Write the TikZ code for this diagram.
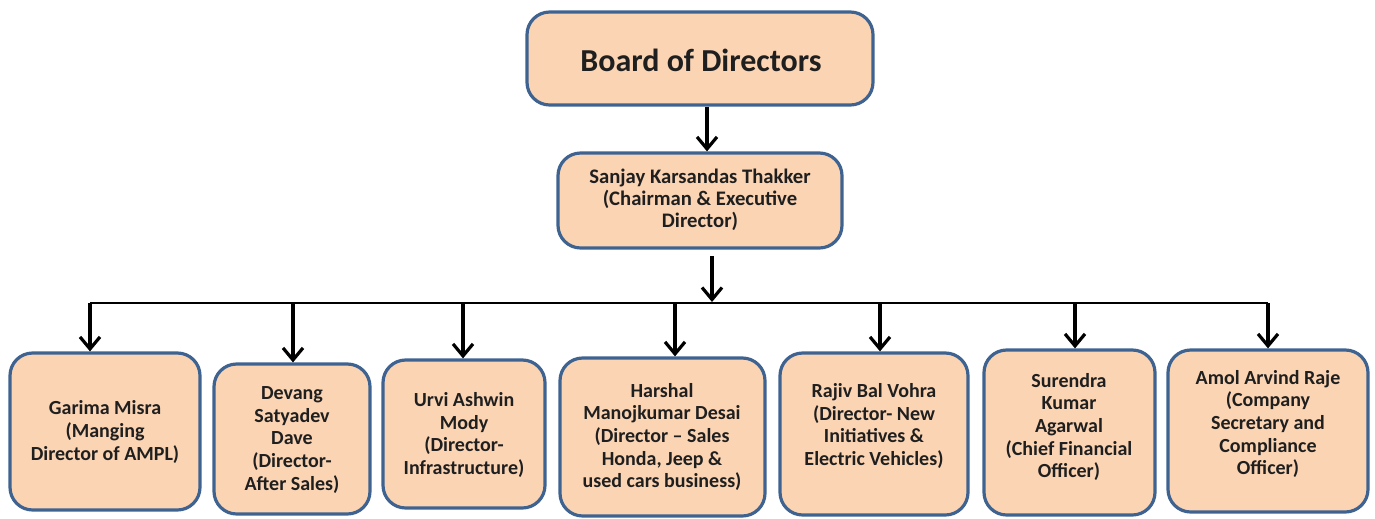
\documentclass[tikz,border=0pt]{standalone}
\usepackage{fontspec}
\setmainfont{Carlito}
\usetikzlibrary{arrows.meta,fit}
\definecolor{peach}{HTML}{FBD4B4}
\definecolor{edgeblue}{HTML}{3F6391}
\tikzset{
  box/.style={draw=edgeblue, fill=peach, line width=2.4pt, rounded corners=17pt, inner sep=0pt},
  txt/.style={align=center, inner sep=0pt, font=\fontsize{15}{16.9}\selectfont\bfseries, text=black!88},
  arr/.style={-{Straight Barb[length=9pt,width=15pt,line width=2.4pt]}, line width=2.4pt},
  bus/.style={line width=1.8pt}
}
\begin{document}
\begin{tikzpicture}[x=0.75pt,y=-0.75pt]
\useasboundingbox (0,0) rectangle (1375,518);
% boxes
\node[box, fit={(527,12) (873,105)}] (board) {};
\node[box, fit={(558,153) (842,248)}] (sanjay) {};
\node[box, fit={(10,353) (200,510)}] (garima) {};
\node[box, fit={(214,364) (370,514)}] (devang) {};
\node[box, fit={(383,360) (545,508)}] (urvi) {};
\node[box, fit={(560,358) (765,516)}] (harshal) {};
\node[box, fit={(780,353) (968,515)}] (rajiv) {};
\node[box, fit={(984,350) (1155,515)}] (surendra) {};
\node[box, fit={(1168,350) (1368,512)}] (amol) {};
% texts
\node[txt, font=\fontsize{24}{28}\selectfont\bfseries] (tboard) at (701,60) {Board of Directors};
\node[txt, font=\fontsize{15.5}{16.5}\selectfont\bfseries] (tsanjay) at (700,200) {Sanjay Karsandas Thakker\\(Chairman \& Executive\\Director)};
\node[txt] (tgarima) at (105,432) {Garima Misra\\(Manging\\Director of AMPL)};
\node[txt] (tdevang) at (292,440) {Devang\\Satyadev\\Dave\\(Director-\\After Sales)};
\node[txt] (turvi) at (464,435) {Urvi Ashwin\\Mody\\(Director-\\Infrastructure)};
\node[txt] (tharshal) at (662,437) {Harshal\\Manojkumar Desai\\(Director -- Sales\\Honda, Jeep \&\\used cars business)};
\node[txt] (trajiv) at (874,426) {Rajiv Bal Vohra\\(Director- New\\Initiatives \&\\Electric Vehicles)};
\node[txt] (tsurendra) at (1069,427) {Surendra\\Kumar\\Agarwal\\(Chief Financial\\Officer)};
\node[txt] (tamol) at (1268,424) {Amol Arvind Raje\\(Company\\Secretary and\\Compliance\\Officer)};
% connector points
\coordinate (s0) at (712,256);
\coordinate (bm) at (712,302);
\coordinate (aG) at (90,303);
\coordinate (aD) at (293,303);
\coordinate (aU) at (463,303);
\coordinate (aH) at (675,303);
\coordinate (aR) at (880,303);
\coordinate (aS) at (1075,303);
\coordinate (aA) at (1268,303);
% connectors
\draw[arr] ([xshift=5.25pt]board.south) -- ([xshift=5.25pt]sanjay.north);
\draw[arr] (s0) -- (bm);
\draw[bus] (aG) -- (aA);
\draw[arr] (aG) -- (aG |- garima.north);
\draw[arr] (aD) -- (aD |- devang.north);
\draw[arr] (aU) -- (aU |- urvi.north);
\draw[arr] (aH) -- (aH |- harshal.north);
\draw[arr] (aR) -- (aR |- rajiv.north);
\draw[arr] (aS) -- (aS |- surendra.north);
\draw[arr] (aA) -- (aA |- amol.north);
\end{tikzpicture}
\end{document}
